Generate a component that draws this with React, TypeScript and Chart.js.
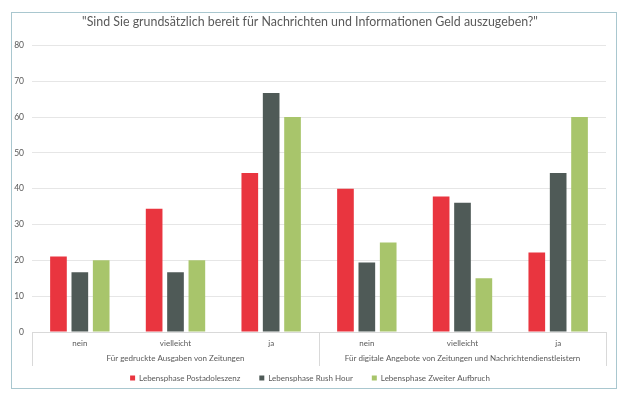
import React, { useEffect, useRef } from "react";
import { Chart, registerables } from "chart.js";
import type { Plugin } from "chart.js";

Chart.register(...registerables);

// data
const answers = ["nein", "vielleicht", "ja", "nein", "vielleicht", "ja"];
const groups = [
  "Für gedruckte Ausgaben von Zeitungen",
  "Für digitale Angebote von Zeitungen und Nachrichtendienstleistern",
];
const postadoleszenz = [21.1, 34.4, 44.4, 40.0, 37.8, 22.2];
const rushHour = [16.7, 16.7, 66.7, 19.4, 36.1, 44.4];
const zweiterAufbruch = [20.0, 20.0, 60.0, 25.0, 15.0, 60.0];
const seriesNames = [
  "Lebensphase Postadoleszenz",
  "Lebensphase Rush Hour",
  "Lebensphase Zweiter Aufbruch",
];

const FONT = "Lato, 'Open Sans', sans-serif";
const TEXT = "#595959";
const LINE = "#d9d9d9";
const LEGEND_PAD = 19;
const LEGEND_SIZE = 8;

// vertical separators of the two-level category axis (Excel style)
const groupSeparators: Plugin<"bar"> = {
  id: "groupSeparators",
  afterLayout: (chart) => {
    // pull the legend row up closer to the group labels
    const legend: any = (chart as any).legend;
    const x2: any = chart.scales.x2;
    if (legend && x2) legend.top = x2.bottom + 12 - LEGEND_PAD - LEGEND_SIZE / 2;
  },
  afterDraw: (chart) => {
    const x: any = chart.scales.x;
    const x2: any = chart.scales.x2;
    if (!x || !x2) return;
    const mid = (x.getPixelForTick(2) + x.getPixelForTick(3)) / 2;
    const ctx = chart.ctx;
    ctx.save();
    ctx.strokeStyle = LINE;
    ctx.lineWidth = 1;
    ctx.beginPath();
    [x.left, mid, x.right].forEach((px: number) => {
      const p = Math.round(px) + 0.5;
      ctx.moveTo(p, x.top);
      ctx.lineTo(p, x2.bottom);
    });
    ctx.stroke();
    ctx.restore();
  },
};

const App: React.FC = () => {
  const canvasRef = useRef<HTMLCanvasElement | null>(null);
  const chartRef = useRef<Chart | null>(null);

  useEffect(() => {
    const canvas = canvasRef.current;
    if (!canvas) return;
    if (chartRef.current) chartRef.current.destroy();

    chartRef.current = new Chart(canvas, {
      type: "bar",
      data: {
        labels: answers,
        datasets: [
          { label: seriesNames[0], data: postadoleszenz, backgroundColor: "#e9353f" },
          { label: seriesNames[1], data: rushHour, backgroundColor: "#4f5a57" },
          { label: seriesNames[2], data: zweiterAufbruch, backgroundColor: "#a8c56b" },
        ],
      },
      options: {
        animation: false,
        responsive: true,
        maintainAspectRatio: false,
        datasets: { bar: { categoryPercentage: 0.67, barPercentage: 0.78 } },
        layout: { padding: { left: 14, right: 24, top: 0, bottom: 1 } },
        plugins: {
          title: {
            display: true,
            text: '"Sind Sie grundsätzlich bereit für Nachrichten und Informationen Geld auszugeben?"',
            color: TEXT,
            font: { family: FONT, size: 12.4, weight: "normal" },
            padding: { top: 14.5, bottom: 16.1 },
          },
          legend: {
            position: "bottom",
            labels: {
              color: TEXT,
              font: { family: FONT, size: LEGEND_SIZE },
              boxWidth: 5,
              boxHeight: 5,
              padding: LEGEND_PAD,
            },
          },
          tooltip: { enabled: false },
        },
        scales: {
          x: {
            grid: { display: false, drawTicks: false },
            border: { display: true, color: LINE },
            ticks: { color: TEXT, font: { family: FONT, size: 8 }, padding: 7 },
            afterFit: (scale: any) => {
              scale.height = 19;
            },
          },
          x2: {
            type: "category",
            labels: groups,
            position: "bottom",
            offset: true,
            grid: { display: false, drawTicks: false },
            border: { display: false },
            ticks: { color: TEXT, font: { family: FONT, size: 8 }, padding: 3, maxRotation: 0 },
            afterFit: (scale: any) => {
              scale.height = 15;
            },
          },
          y: {
            min: 0,
            max: 80,
            ticks: { stepSize: 10, color: TEXT, font: { family: FONT, size: 8.5 }, padding: 8 },
            grid: { color: "#e6e6e6", drawTicks: false },
            border: { display: false },
            afterFit: (scale: any) => {
              scale.width = 18;
            },
          },
        },
      },
      plugins: [groupSeparators],
    });

    return () => {
      if (chartRef.current) {
        chartRef.current.destroy();
        chartRef.current = null;
      }
    };
  }, []);

  return (
    <div style={{ position: "fixed", left: 0, top: 0, width: 630, height: 404, background: "#fff" }}>
      <div
        style={{
          position: "absolute",
          left: 11,
          top: 12,
          width: 604,
          height: 375,
          border: "1px solid #a9c7cf",
        }}
      />
      <div style={{ position: "absolute", left: 0, top: 0, width: 630, height: 404 }}>
        <canvas ref={canvasRef} />
      </div>
    </div>
  );
};

export default App;
